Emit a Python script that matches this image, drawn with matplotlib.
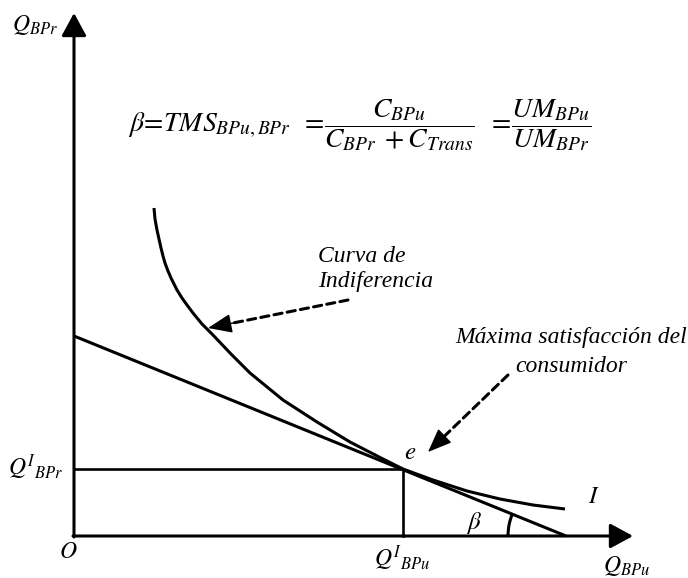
# -*- coding: utf-8 -*-
"""
Curva de indiferencia y recta de presupuesto (equilibrio del consumidor).
"""

import numpy as np
import matplotlib
matplotlib.use("Agg")
from matplotlib import pyplot as plt
from matplotlib.patches import Arc

plt.rcParams["mathtext.fontset"] = "stix"
plt.rcParams["font.family"] = ["Liberation Serif", "DejaVu Serif"]

# Recta de presupuesto (intersecciones con los ejes).
presupuesto_x = [0, 492]
presupuesto_y = [200, 0]

# Curva de indiferencia I.
curva_x = [80, 81, 83, 85, 87, 89, 91, 94, 97, 100, 103, 108, 113, 119, 128, 138,
           157, 176, 209, 243, 276, 309, 329, 359, 393, 426, 459, 491]
curva_y = [328, 317, 306, 297, 288, 280, 273, 265, 258, 252, 246, 238, 231, 223, 212, 202,
           182, 163, 136, 114, 94, 77, 67, 56, 45, 37, 31, 27]

# Punto de equilibrio e.
q_bpu = 329
q_bpr = 67

fig = plt.figure(figsize=(6.88, 5.78), dpi=100)
ax = fig.add_axes([0, 0, 1, 1])
ax.set_xlim(-74, 614)
ax.set_ylim(-42, 536)
ax.axis("off")

# Ejes con flecha.
eje = dict(arrowstyle="-|>,head_length=0.7,head_width=0.38", lw=2.2, color="k",
           shrinkA=0, shrinkB=0, mutation_scale=20)
ax.annotate("", xy=(0, 523), xytext=(0, -1), arrowprops=eje)
ax.annotate("", xy=(559, 0), xytext=(-1, 0), arrowprops=eje)

# Recta de presupuesto y curva de indiferencia.
ax.plot(presupuesto_x, presupuesto_y, color="k", lw=2.2, solid_capstyle="butt")
ax.plot(curva_x, curva_y, color="k", lw=2.2, solid_capstyle="butt",
        solid_joinstyle="round")

# Líneas de referencia del equilibrio.
ax.plot([0, q_bpu], [q_bpr, q_bpr], color="k", lw=1.9)
ax.plot([q_bpu, q_bpu], [q_bpr, 0], color="k", lw=1.9)

# Ángulo beta.
angulo = np.degrees(np.arctan2(presupuesto_y[0], presupuesto_x[1]))
ax.add_patch(Arc((presupuesto_x[1], 0), 116, 116, theta1=180 - angulo, theta2=180,
                 lw=2.2, color="k"))


def flecha_discontinua(inicio, fin):
    inicio = np.array(inicio, dtype=float)
    fin = np.array(fin, dtype=float)
    u = (inicio - fin) / np.hypot(*(inicio - fin))
    ax.annotate("", xy=fin, xytext=inicio,
                arrowprops=dict(arrowstyle="-", lw=2.2, color="k",
                                linestyle=(0, (2.7, 1.7)), shrinkA=0, shrinkB=12))
    ax.annotate("", xy=fin, xytext=fin + 30 * u,
                arrowprops=dict(arrowstyle="-|>,head_length=0.75,head_width=0.3",
                                lw=1.0, color="k", shrinkA=0, shrinkB=0,
                                mutation_scale=20))


flecha_discontinua((274, 236), (134, 208))
flecha_discontinua((434, 161), (354, 84))

# Textos.
ax.text(286, 411,
        r"$\beta\!=\!TMS_{BPu,BPr}\;\;=\!\dfrac{C_{BPu}}{C_{BPr}\;+C_{Trans}}\;\;=\!\dfrac{UM_{BPu}}{UM_{BPr}}$",
        fontsize=20, ha="center", va="center")

ax.text(-39, 511, r"$Q_{BPr}$", fontsize=17, ha="center", va="center")
ax.text(-38, 69, r"$Q^{I}{}_{BPr}$", fontsize=17, ha="center", va="center")
ax.text(-6, -16, r"$O$", fontsize=17, ha="center", va="center")
ax.text(328, -22, r"$Q^{I}{}_{BPu}$", fontsize=17, ha="center", va="center")
ax.text(553, -30, r"$Q_{BPu}$", fontsize=17, ha="center", va="center")
ax.text(520, 39, r"$I$", fontsize=18, ha="center", va="center")
ax.text(400, 13, r"$\beta$", fontsize=18, ha="center", va="center")
ax.text(336, 83, r"$e$", fontsize=18, ha="center", va="center")

ax.text(244, 280, "Curva de", fontsize=17, style="italic", ha="left", va="center")
ax.text(244, 254, "Indiferencia", fontsize=17, style="italic", ha="left", va="center")
ax.text(497, 199, "Máxima satisfacción del", fontsize=17, style="italic",
        ha="center", va="center")
ax.text(497, 169, "consumidor", fontsize=17, style="italic", ha="center", va="center")

fig.savefig("out.png", dpi=100)
